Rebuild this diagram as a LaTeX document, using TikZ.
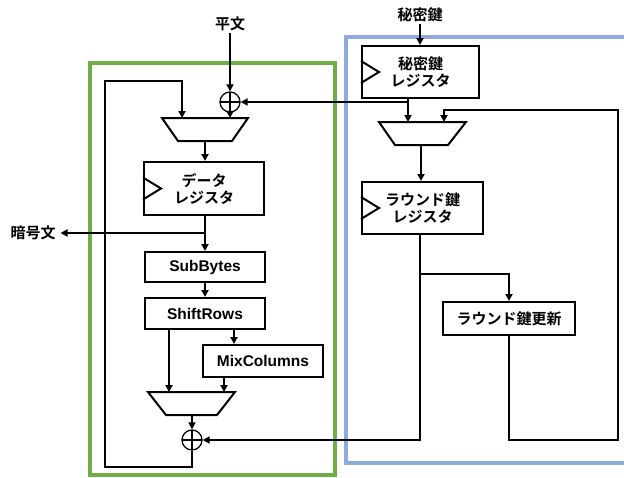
\documentclass[tikz,border=0pt]{standalone}
\usepackage{fontspec}
\usetikzlibrary{arrows.meta}
\newfontfamily\jpfont{Noto Sans CJK JP}[BoldFont={Noto Sans CJK JP Bold}]
\newfontfamily\latfont{Liberation Sans}
\definecolor{grn}{HTML}{70AD47}
\definecolor{blu}{HTML}{8FAADC}
\begin{document}
\begin{tikzpicture}[x=1pt,y=-1pt,line width=2pt,
  jp/.style={font=\jpfont\bfseries\fontsize{15}{17}\selectfont},
  lt/.style={font=\latfont\bfseries\fontsize{15.5}{17}\selectfont},
  box/.style={draw,line width=2pt,inner sep=0pt,align=center},
  lbl/.style={inner sep=1pt},
  arr/.style={-{Triangle[length=7pt,width=7pt]}},
  xorc/.style={draw,circle,line width=1.3pt,minimum size=20pt,inner sep=0pt,
    path picture={\draw[line width=1.3pt] (path picture bounding box.north) -- (path picture bounding box.south)
      (path picture bounding box.west) -- (path picture bounding box.east);}},
  mux/.style={draw,line width=2pt,line join=miter},
  clk/.style={draw,line width=2pt,line join=miter}]
\useasboundingbox (0,0) rectangle (624,477);
% group frames
\draw[grn,line width=4pt] (90,62.5) rectangle (335,474.5);
\draw[blu,line width=4pt] (346,37) rectangle (640,463);

% labels
\node[jp,lbl] (pt) at (230,24) {平文};
\node[jp,lbl] (sk) at (420,15) {秘密鍵};
\node[jp,lbl,inner sep=4pt] (ct) at (33,233) {暗号文};

% xor
\node[xorc] (x1) at (230,102) {};
\node[xorc] (x2) at (192,440) {};

% muxes (drawn as trapezoids)
\draw[mux] (162,118) -- (248,118) -- (232,141) -- (178,141) -- cycle;
\draw[mux] (148,392) -- (235,392) -- (217,415) -- (166,415) -- cycle;
\draw[mux] (379,122) -- (466,122) -- (448,145) -- (395,145) -- cycle;
\coordinate (m1a) at (182,118);
\coordinate (m1b) at (230,118);
\coordinate (m1o) at (205,141);
\coordinate (m2a) at (169,392);
\coordinate (m2b) at (224,392);
\coordinate (m2o) at (192,415);
\coordinate (m3a) at (408,122);
\coordinate (m3b) at (444,122);
\coordinate (m3o) at (421,145);

% boxes
\node[box,jp,minimum width=120pt,minimum height=53pt] (dreg) at (204,188.5) {データ\\レジスタ};
\node[box,lt,minimum width=120pt,minimum height=30pt] (sb) at (205,267) {SubBytes};
\node[box,lt,minimum width=120pt,minimum height=31pt] (sr) at (205,313.5) {ShiftRows};
\node[box,lt,minimum width=120pt,minimum height=32pt] (mc) at (263,361) {MixColumns};
\node[box,jp,minimum width=117pt,minimum height=52pt] (kreg) at (420.5,72) {秘密鍵\\レジスタ};
\node[box,jp,minimum width=121pt,minimum height=52pt] (rkreg) at (422.5,208) {ラウンド鍵\\レジスタ};
\node[box,jp,minimum width=132pt,minimum height=33pt] (upd) at (509,318.5) {ラウンド鍵更新};

% clock triangles
\draw[clk] ([yshift=11pt]dreg.west) -- ++(18,11) -- ++(-18,11);
\draw[clk] ([yshift=11pt]kreg.west) -- ++(18,11) -- ++(-18,11);
\draw[clk] ([yshift=11pt]rkreg.west) -- ++(18,11) -- ++(-18,11);

% data path
\draw[arr] (pt) -- (x1);
\draw[arr] (x1) -- (m1b);
\draw[arr] (m1o) -- (m1o |- dreg.north);
\draw[arr] (sb.north |- dreg.south) -- (sb.north);
\coordinate (b1) at (205,233);
\draw[arr] (b1) -- (ct);
\draw[arr] (sb) -- (sr);
\draw[arr] (sr.south -| m2a) -- (m2a);
\draw[arr] (sr.south -| 234,0) -- (mc.north -| 234,0);
\draw[arr] (mc.south -| m2b) -- (m2b);
\draw[arr] (m2o) -- (x2);
\draw[arr] (x2.south) -- (192,467) -- (105,467) -- (105,81) -- (182,81) -- (m1a);

% key path
\draw[arr] (sk) -- (kreg.north -| sk);
\draw[arr] (kreg.south -| m3a) -- (m3a);
\coordinate (b2) at (408,102);
\draw[arr] (b2) -- (x1);
\draw[arr] (m3o) -- (m3o |- rkreg.north);
\draw[arr] (rkreg.south -| 420,0) -- (420,440) -- (x2);
\coordinate (b3) at (420,274);
\draw[arr] (b3) -- (509,274) -- (upd.north);
\draw[arr] (upd.south) -- (509,440) -- (618,440) -- (618,110) -- (444,110) -- (m3b);
\end{tikzpicture}
\end{document}
